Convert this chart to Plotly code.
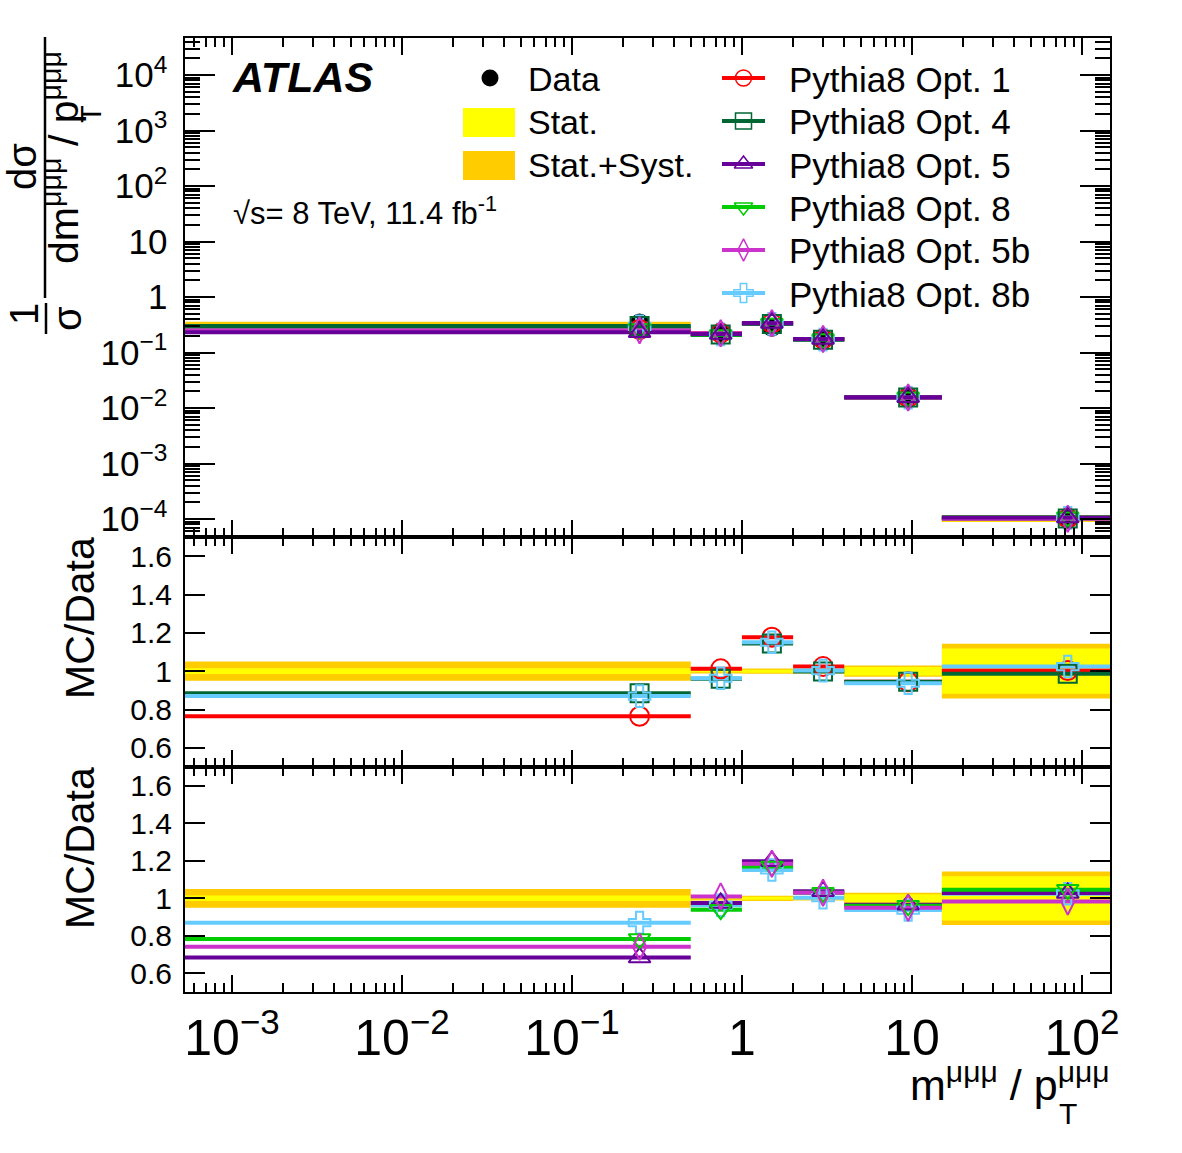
import plotly.graph_objects as go

# ---------------- data ----------------
bin_edges = [1e-5, 0.5, 1.0, 2.0, 4.0, 15.0, 150.0]
bin_centers = [0.25, 0.75, 1.5, 3.0, 9.5, 82.5]

data_xs = [0.34, 0.22, 0.285, 0.17, 0.0163, 1.03e-4]
stat_rel = [0.015, 0.005, 0.008, 0.006, 0.022, 0.118]
total_rel = [0.05, 0.012, 0.014, 0.012, 0.029, 0.143]

opt1_xs = [0.260, 0.223, 0.335, 0.174, 0.0154, 1.03e-4]
opt4_xs = [0.301, 0.211, 0.328, 0.170, 0.0154, 1.02e-4]
opt5_xs = [0.233, 0.215, 0.341, 0.176, 0.0157, 1.06e-4]
opt8_xs = [0.266, 0.207, 0.333, 0.175, 0.0156, 1.08e-4]
opt5b_xs = [0.252, 0.222, 0.337, 0.175, 0.0155, 1.01e-4]
opt8b_xs = [0.296, 0.212, 0.328, 0.171, 0.0153, 1.05e-4]

ratio_opt1 = [0.765, 1.012, 1.177, 1.024, 0.945, 1.003]
ratio_opt4 = [0.885, 0.960, 1.145, 0.998, 0.945, 0.986]
ratio_opt5 = [0.684, 0.975, 1.198, 1.037, 0.966, 1.028]
ratio_opt8 = [0.783, 0.939, 1.170, 1.030, 0.960, 1.046]
ratio_opt5b = [0.741, 1.010, 1.184, 1.030, 0.950, 0.983]
ratio_opt8b = [0.870, 0.963, 1.151, 1.003, 0.937, 1.024]

ratio_tick_vals = [0.6, 0.8, 1.0, 1.2, 1.4, 1.6]
ratio_tick_text = ["0.6", "0.8", "1", "1.2", "1.4", "1.6"]

# ---------------- styles ----------------
FONT = "Liberation Sans, Arial, Helvetica, sans-serif"
YELLOW = "#FFFF00"
ORANGE = "#FFCC00"
style = {
    "Opt. 1": dict(color="#FF0000", symbol="circle-open", size=19),
    "Opt. 4": dict(color="#006633", symbol="square-open", size=18),
    "Opt. 5": dict(color="#660099", symbol="triangle-up-open", size=19),
    "Opt. 8": dict(color="#00CC00", symbol="triangle-down-open", size=19),
    "Opt. 5b": dict(color="#CC33CC", symbol="diamond-tall-open", size=19),
    "Opt. 8b": dict(color="#66CCFF", symbol="cross-open", size=18),
}
top_series = [("Opt. 8b", opt8b_xs), ("Opt. 1", opt1_xs), ("Opt. 8", opt8_xs),
              ("Opt. 4", opt4_xs), ("Opt. 5b", opt5b_xs), ("Opt. 5", opt5_xs)]
mid_series = [("Opt. 1", ratio_opt1), ("Opt. 4", ratio_opt4), ("Opt. 8b", ratio_opt8b)]
bot_series = [("Opt. 8b", ratio_opt8b), ("Opt. 5", ratio_opt5), ("Opt. 8", ratio_opt8),
              ("Opt. 5b", ratio_opt5b)]


def steps(vals):
    xs, ys = [], []
    for i, v in enumerate(vals):
        xs += [bin_edges[i], bin_edges[i + 1], None]
        ys += [v, v, None]
    return xs, ys


def boxes(lo, hi):
    xs, ys = [], []
    for i in range(len(lo)):
        a, b = bin_edges[i], bin_edges[i + 1]
        xs += [a, b, b, a, a, None]
        ys += [lo[i], lo[i], hi[i], hi[i], lo[i], None]
    return xs, ys


fig = go.Figure()


def add_band(lo, hi, color, xa, ya):
    bx, by = boxes(lo, hi)
    fig.add_trace(go.Scatter(x=bx, y=by, mode="lines", fill="toself", fillcolor=color,
                             line=dict(width=0, color=color), hoverinfo="skip",
                             showlegend=False, xaxis=xa, yaxis=ya))


def add_series(series, xa, ya):
    for name, vals in series:
        st = style[name]
        sx, sy = steps(vals)
        fig.add_trace(go.Scatter(x=sx, y=sy, mode="lines", line=dict(color=st["color"], width=4),
                                 showlegend=False, xaxis=xa, yaxis=ya, hoverinfo="skip"))
    for name, vals in series:
        st = style[name]
        fig.add_trace(go.Scatter(x=bin_centers, y=vals, mode="markers",
                                 marker=dict(symbol=st["symbol"], size=st["size"],
                                             color=st["color"], line=dict(color=st["color"], width=2)),
                                 showlegend=False, xaxis=xa, yaxis=ya, name="Pythia8 " + name))


# top panel
add_band([d * (1 - r) for d, r in zip(data_xs, total_rel)],
         [d * (1 + r) for d, r in zip(data_xs, total_rel)], ORANGE, "x", "y")
add_band([d * (1 - r) for d, r in zip(data_xs, stat_rel)],
         [d * (1 + r) for d, r in zip(data_xs, stat_rel)], YELLOW, "x", "y")
fig.add_trace(go.Scatter(x=bin_centers, y=data_xs, mode="markers",
                         marker=dict(symbol="circle", size=19, color="black"),
                         showlegend=False, xaxis="x", yaxis="y", name="Data"))
add_series(top_series, "x", "y")

# middle ratio panel
add_band([1 - r for r in total_rel], [1 + r for r in total_rel], ORANGE, "x2", "y2")
add_band([1 - r for r in stat_rel], [1 + r for r in stat_rel], YELLOW, "x2", "y2")
add_series(mid_series, "x2", "y2")

# bottom ratio panel
add_band([1 - r for r in total_rel], [1 + r for r in total_rel], ORANGE, "x3", "y3")
add_band([1 - r for r in stat_rel], [1 + r for r in stat_rel], YELLOW, "x3", "y3")
add_series(bot_series, "x3", "y3")

# ---------------- layout geometry (pixels) ----------------
W, H = 1182, 1153
L, R, T, B = 185, 1110, 38, 992
PW, PH = R - L, B - T


def pxx(x):
    return (x - L) / PW


def pxy(y):
    return (B - y) / PH


top_dom = [pxy(537), 1.0]
mid_dom = [pxy(767), pxy(537)]
bot_dom = [0.0, pxy(767)]

xcommon = dict(type="log", range=[-3.276, 2.165], dtick=1, tick0=0, exponentformat="power",
               showgrid=False, zeroline=False, showline=True, linecolor="black", linewidth=2,
               mirror="ticks", ticks="inside", ticklen=17, tickwidth=2, tickcolor="black",
               minor=dict(ticks="inside", ticklen=9, tickwidth=1.5, tickcolor="black", showgrid=False),
               tickfont=dict(family=FONT, size=40, color="black"))
ratio_y = dict(range=[0.5, 1.7], tickvals=ratio_tick_vals, ticktext=ratio_tick_text,
               showgrid=False, zeroline=False, showline=True, linecolor="black", linewidth=2,
               mirror="ticks", ticks="inside", ticklen=20, tickwidth=2, tickcolor="black",
               tickfont=dict(family=FONT, size=30, color="black"), ticklabelstandoff=5)

fig.update_layout(
    width=W, height=H,
    margin=dict(l=L, r=W - R, t=T, b=H - B, pad=0),
    paper_bgcolor="white", plot_bgcolor="white",
    font=dict(family=FONT, color="black"),
    showlegend=False,
    xaxis=dict(**xcommon, domain=[0, 1], anchor="y", showticklabels=False),
    yaxis=dict(type="log", range=[-4.324, 4.667], dtick=1, exponentformat="power", domain=top_dom,
               anchor="x", showgrid=False, zeroline=False, showline=True, linecolor="black",
               linewidth=2, mirror="ticks", ticks="inside", ticklen=30, tickwidth=2,
               tickcolor="black",
               minor=dict(ticks="inside", ticklen=15, tickwidth=1.5, tickcolor="black", showgrid=False),
               tickfont=dict(family=FONT, size=28, color="black"), ticklabelstandoff=10),
    xaxis2=dict(**xcommon, domain=[0, 1], anchor="y2", showticklabels=False),
    yaxis2=dict(**ratio_y, domain=mid_dom, anchor="x2"),
    xaxis3=dict(**xcommon, domain=[0, 1], anchor="y3", showticklabels=True, ticklabelstandoff=3),
    yaxis3=dict(**ratio_y, domain=bot_dom, anchor="x3"),
    # hidden pixel-space axes for the hand-drawn legend glyphs
    xaxis4=dict(domain=[0, 1], range=[L, R], anchor="y4", overlaying="x", visible=False),
    yaxis4=dict(domain=top_dom, range=[537, T], anchor="x4", overlaying="y", visible=False),
)

# ---------------- legend ----------------
anns = []
shapes = []


def text(x, y, s, size, xanchor="left", angle=0, **kw):
    anns.append(dict(x=pxx(x), y=pxy(y), xref="paper", yref="paper", text=s, showarrow=False,
                     xanchor=xanchor, yanchor="middle", textangle=angle,
                     font=dict(family=FONT, size=size, color="black"), **kw))


# Data entry
fig.add_trace(go.Scatter(x=[490], y=[78], mode="markers", marker=dict(symbol="circle", size=17, color="black"),
                         xaxis="x4", yaxis="y4", showlegend=False, hoverinfo="skip"))
text(526, 79, "Data", 34)
shapes.append(dict(type="rect", xref="paper", yref="paper", x0=pxx(463), x1=pxx(515), y0=pxy(108),
                   y1=pxy(137), fillcolor=YELLOW, line=dict(width=0)))
text(526, 122, "Stat.", 34)
shapes.append(dict(type="rect", xref="paper", yref="paper", x0=pxx(463), x1=pxx(515), y0=pxy(151),
                   y1=pxy(180), fillcolor=ORANGE, line=dict(width=0)))
text(526, 165, "Stat.+Syst.", 34)

legend_order = ["Opt. 1", "Opt. 4", "Opt. 5", "Opt. 8", "Opt. 5b", "Opt. 8b"]
for i, name in enumerate(legend_order):
    yy = 78 + i * 43
    st = style[name]
    fig.add_trace(go.Scatter(x=[722, 765], y=[yy, yy], mode="lines", line=dict(color=st["color"], width=4),
                             xaxis="x4", yaxis="y4", showlegend=False, hoverinfo="skip"))
    fig.add_trace(go.Scatter(x=[743.5], y=[yy], mode="markers",
                             marker=dict(symbol=st["symbol"], size=16, color=st["color"],
                                         line=dict(color=st["color"], width=1.5)),
                             xaxis="x4", yaxis="y4", showlegend=False, hoverinfo="skip"))
    text(787, yy + 1, "Pythia8 " + name, 35)

# ATLAS label and energy
anns.append(dict(x=pxx(230), y=pxy(77), xref="paper", yref="paper", text="<b><i>ATLAS</i></b>",
                 showarrow=False, xanchor="left", yanchor="middle",
                 font=dict(family=FONT, size=43, color="black")))
text(231, 211, "√s= 8 TeV, 11.4 fb<sup>-1</sup>", 31)

# ratio y titles
text(80, 618, "MC/Data", 41, xanchor="center", angle=-90)
text(80, 848, "MC/Data", 41, xanchor="center", angle=-90)

# top y title (fraction)
text(24, 314, "1", 40, xanchor="center", angle=-90)
shapes.append(dict(type="line", xref="paper", yref="paper", x0=pxx(46), x1=pxx(46), y0=pxy(303),
                   y1=pxy(334), line=dict(color="black", width=2.5)))
text(67, 319, "σ", 40, xanchor="center", angle=-90)
text(22, 167, "dσ", 40, xanchor="center", angle=-90)
shapes.append(dict(type="line", xref="paper", yref="paper", x0=pxx(45), x1=pxx(45), y0=pxy(37),
                   y1=pxy(298), line=dict(color="black", width=2.5)))
text(61, 158, "dm<sup>μμμ</sup> / p<sup>μμμ</sup>", 41, xanchor="center", angle=-90)
text(91, 114, "T", 29, xanchor="center", angle=-90)

# x title
text(1112, 1082, "m<sup>μμμ</sup> / p<sup>μμμ</sup>", 43, xanchor="right")
text(1068, 1113, "T", 30, xanchor="center")

fig.update_layout(annotations=anns, shapes=shapes)
fig.write_html("out.html")
